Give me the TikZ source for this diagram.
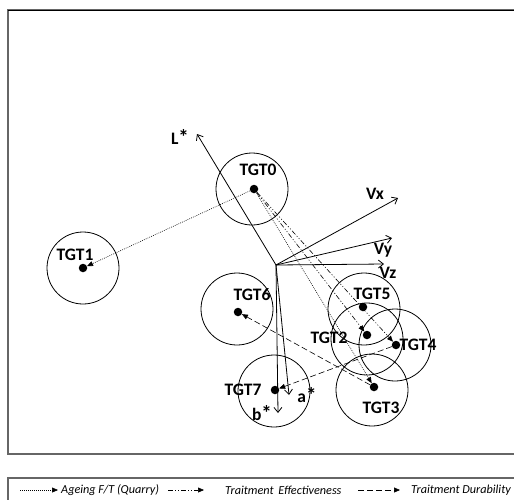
\documentclass[tikz,border=0pt]{standalone}
\usepackage{fontspec}
\setmainfont{Carlito}
\usetikzlibrary{arrows.meta}
\tikzset{
  tgt/.style={circle,draw,line width=0.8pt,minimum size=72pt,inner sep=0pt},
  dotn/.style={circle,fill,minimum size=8.5pt,inner sep=0pt},
  lbl/.style={font=\bfseries\fontsize{17.5}{20}\selectfont,inner sep=0pt},
  vec/.style={line width=0.8pt,-{Straight Barb[length=5pt,width=8pt]}},
  conn/.style={line width=0.6pt,-{Triangle[length=6pt,width=5pt]}},
  ageing/.style={conn,dash pattern=on 0.8pt off 1.2pt},
  effect/.style={conn,dash pattern=on 5pt off 2pt on 1pt off 2pt on 1pt off 2pt},
  durab/.style={conn,dash pattern=on 6pt off 3pt},
  legtxt/.style={font=\itshape\fontsize{12.2}{14}\selectfont,inner sep=0pt,anchor=west}
}
\newcommand{\bigstar}{{\fontsize{21}{20}\selectfont *}}
\begin{document}
\begin{tikzpicture}[x=1pt,y=-1pt]
\useasboundingbox (0,0) rectangle (514,499);
% frames
\draw[gray!80!black,line width=1.2pt] (520,10) -- (8,10) -- (8,454) -- (520,454);
\draw[black,line width=1pt] (8,10) -- (520,10);
\draw[gray!80!black,line width=1.2pt] (8,505) -- (8,478) -- (520,478);
% circles
\node[tgt] (c0) at (252,189) {};
\node[tgt] (c1) at (83,268) {};
\node[tgt] (c6) at (237,309) {};
\node[tgt] (c5) at (364,309) {};
\node[tgt] (c2) at (367,339) {};
\node[tgt] (c4) at (395,345) {};
\node[tgt] (c3) at (372,390) {};
\node[tgt] (c7) at (274,391) {};
% dots
\node[dotn] (d0) at (254,189) {};
\node[dotn] (d1) at (83,268) {};
\node[dotn] (d6) at (238,312) {};
\node[dotn] (d5) at (363,307) {};
\node[dotn] (d2) at (367,335) {};
\node[dotn] (d4) at (396,345) {};
\node[dotn] (d3) at (374,387) {};
\node[dotn] (d7) at (275,390) {};
% labels
\node[lbl] (l0) at (258,170) {TGT0};
\node[lbl] (l1) at (75,255) {TGT1};
\node[lbl] (l6) at (252,295) {TGT6};
\node[lbl] (l5) at (372,294) {TGT5};
\node[lbl] (l2) at (329,338) {TGT2};
\node[lbl] (l4) at (418,345) {TGT4};
\node[lbl] (l7) at (243,390) {TGT7};
\node[lbl] (l3) at (381,408) {TGT3};
% vectors
\coordinate (O) at (276,265);
\coordinate (Le) at (197,134);
\coordinate (Vxe) at (398,198);
\coordinate (Vye) at (392,238);
\coordinate (Vze) at (384,264);
\coordinate (ae) at (289,395);
\coordinate (be) at (278,413);
\draw[vec] (O) -- (Le);
\draw[vec] (O) -- (Vxe);
\draw[vec] (O) -- (Vye);
\draw[vec] (O) -- (Vze);
\draw[vec] (O) -- (ae);
\draw[vec] (O) -- (be);
\node[lbl] (lL) at (180,137) {L\bigstar};
\node[lbl] (lVx) at (375,194) {Vx};
\node[lbl] (lVy) at (383,250) {Vy};
\node[lbl] (lVz) at (388,273) {Vz};
\node[lbl] (la) at (307,395) {a\bigstar};
\node[lbl] (lb) at (262,413) {b\bigstar};
% connectors
\draw[ageing] (d0) -- (d1);
\draw[ageing] (d0) -- (d3);
\draw[effect] (d0) -- (d2);
\draw[effect] (d0) -- (d4);
\draw[durab] (d3) -- (d6);
\draw[durab] (d4) -- (d7);
% legend
\coordinate (a1) at (20,490); \coordinate (a2) at (58,490);
\coordinate (b1) at (168,490); \coordinate (b2) at (204,490);
\coordinate (e1) at (358,490); \coordinate (e2) at (400,490);
\draw[ageing] (a1) -- (a2);
\node[legtxt] (t1) at (61,490) {Ageing F/T (Quarry)};
\draw[effect] (b1) -- (b2);
\node[legtxt] (t2) at (225,490) {Traitment\, Effectiveness};
\draw[durab] (e1) -- (e2);
\node[legtxt] (t3) at (411,490) {Traitment Durability};
\end{tikzpicture}
\end{document}
